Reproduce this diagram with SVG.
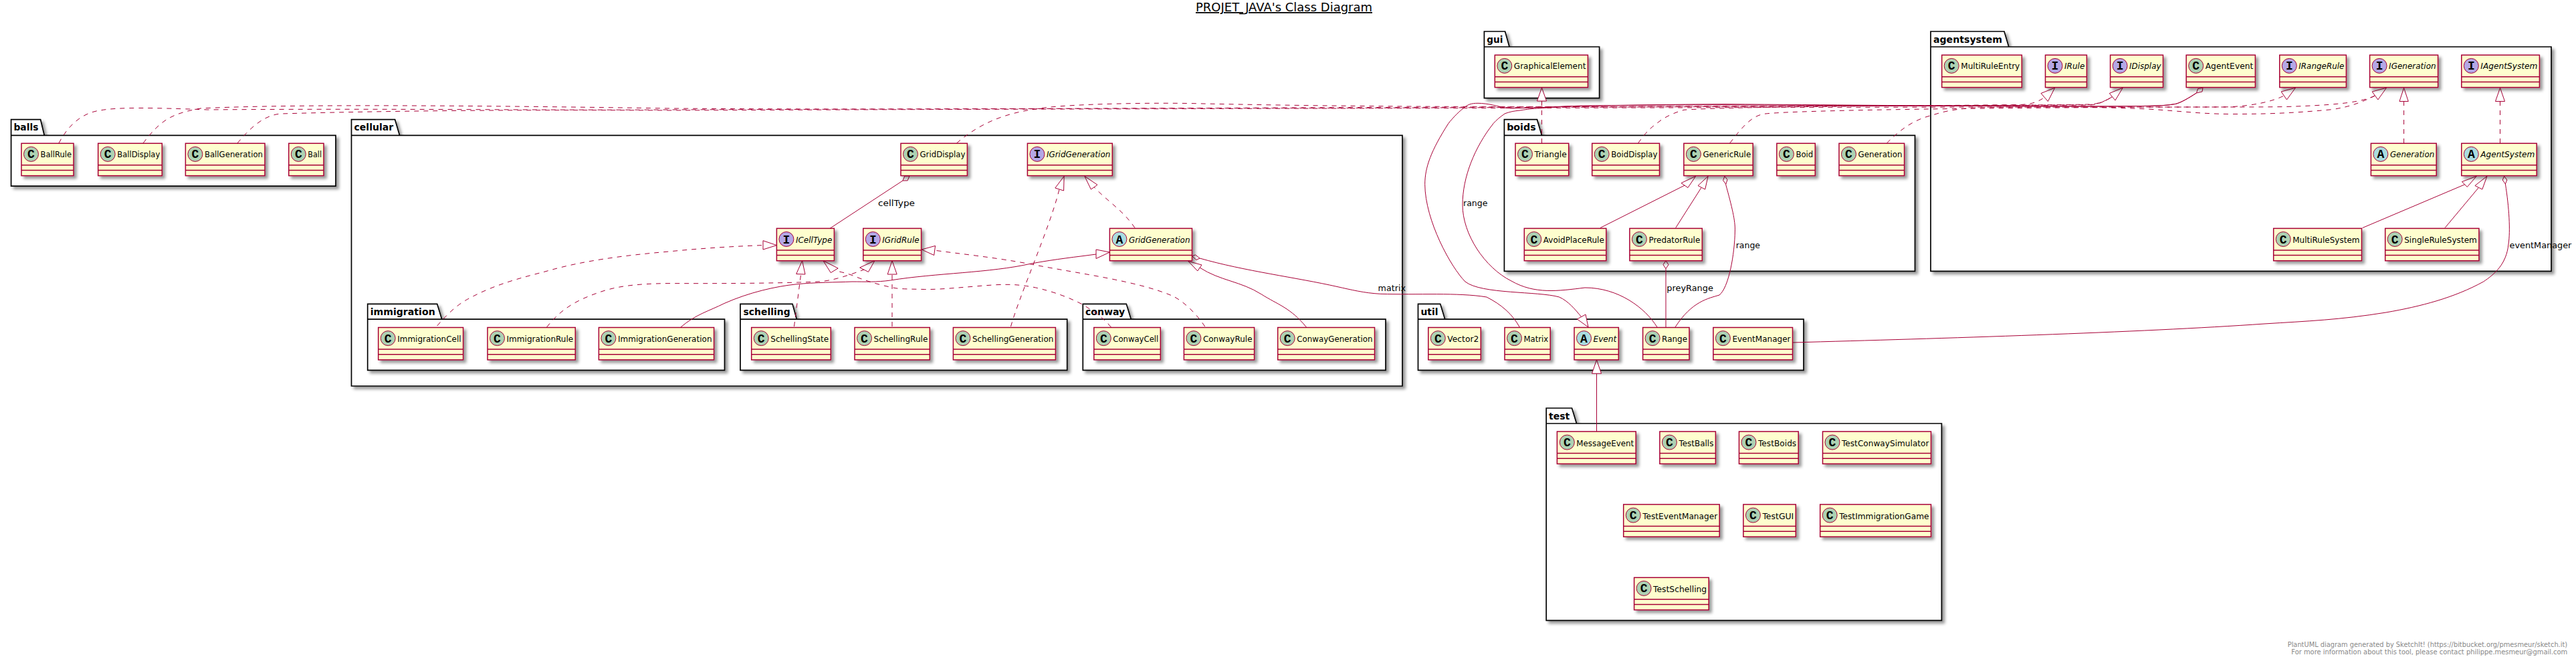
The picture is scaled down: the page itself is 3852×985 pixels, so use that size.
<svg xmlns="http://www.w3.org/2000/svg" width="3852" height="985" viewBox="0 0 3852 985">
<style>
text{font-family:"DejaVu Sans","Liberation Sans",sans-serif;font-size:13px;fill:#000}
.pk path{fill:#fff;stroke:#000;stroke-width:1.7;filter:url(#sh)}
.pk text{font-weight:bold;font-size:14px}
.n rect{fill:#FEFECE;stroke:#A80036;stroke-width:1.5;filter:url(#sh)}
.n line{stroke:#A80036;stroke-width:1.5}
.n ellipse{stroke:#A80036;stroke-width:1}
.n .g{font-family:"Liberation Mono",monospace;font-weight:bold;font-size:18px;text-anchor:middle}
.n .i{font-style:italic}
.c{fill:#ADD1B2}.a{fill:#A9DCDF}.f{fill:#B4A7E5}
#conn path{fill:none;stroke:#A80036;stroke-width:1}
#conn .d{stroke-dasharray:7,7}
#conn polygon{fill:#fff;stroke:#A80036;stroke-width:1}
.ft{font-size:10px;fill:#888}
</style>
<defs><filter id="sh" x="-20%" y="-20%" width="140%" height="140%"><feGaussianBlur in="SourceAlpha" stdDeviation="2" result="b"/><feColorMatrix in="b" type="matrix" values="0 0 0 0 0 0 0 0 0 0 0 0 0 0 0 0 0 0 .4 0" result="c"/><feOffset in="c" dx="4" dy="4" result="o"/><feBlend in="SourceGraphic" in2="o" mode="normal"/></filter></defs>
<text x="1788" y="17" font-size="18" style="font-size:18px;text-decoration:underline" textLength="264" lengthAdjust="spacingAndGlyphs">PROJET_JAVA's Class Diagram</text>
<g id="packages">
<g id="pkg-balls" class="pk"><path d="M16.6,202.4V178.7H60.6L66.3,202.4H502V278.2H16.6ZM16.6,202.4H66.3"/><text x="20.4" y="195.2" textLength="37" lengthAdjust="spacingAndGlyphs">balls</text></g>
<g id="pkg-cellular" class="pk"><path d="M525.5,202.4V178.7H590.6L597.6,202.4H2097V577H525.5ZM525.5,202.4H597.6"/><text x="529.5" y="195.2" textLength="58.7" lengthAdjust="spacingAndGlyphs">cellular</text></g>
<g id="pkg-immigration" class="pk"><path d="M549.7,477.2V454.3H653.7L660.7,477.2H1083.5V553.4H549.7ZM549.7,477.2H660.7"/><text x="553.7" y="470.8" textLength="97" lengthAdjust="spacingAndGlyphs">immigration</text></g>
<g id="pkg-schelling" class="pk"><path d="M1107,477.2V454.3H1185L1191.3,477.2H1595.7V553.4H1107ZM1107,477.2H1191.3"/><text x="1111.6" y="470.8" textLength="70" lengthAdjust="spacingAndGlyphs">schelling</text></g>
<g id="pkg-conway" class="pk"><path d="M1619.3,477.2V454.3H1684.3L1691.3,477.2H2072V553.4H1619.3ZM1619.3,477.2H1691.3"/><text x="1623" y="470.8" textLength="59.3" lengthAdjust="spacingAndGlyphs">conway</text></g>
<g id="pkg-gui" class="pk"><path d="M2219.4,70V47H2250.6L2257,70H2391.6V146.6H2219.4ZM2219.4,70H2257"/><text x="2223.2" y="63.5" textLength="24.2" lengthAdjust="spacingAndGlyphs">gui</text></g>
<g id="pkg-agentsystem" class="pk"><path d="M2887,70V47H2997L3003.8,70H3815V405.3H2887ZM2887,70H3003.8"/><text x="2891" y="63.5" textLength="103" lengthAdjust="spacingAndGlyphs">agentsystem</text></g>
<g id="pkg-boids" class="pk"><path d="M2249.4,202.4V178.7H2298.5L2305.5,202.4H2863.5V405.3H2249.4ZM2249.4,202.4H2305.5"/><text x="2253.2" y="195.2" textLength="43.4" lengthAdjust="spacingAndGlyphs">boids</text></g>
<g id="pkg-util" class="pk"><path d="M2120.5,477.2V454.3H2153.7L2160.7,477.2H2697V553.4H2120.5ZM2120.5,477.2H2160.7"/><text x="2124.4" y="470.8" textLength="26" lengthAdjust="spacingAndGlyphs">util</text></g>
<g id="pkg-test" class="pk"><path d="M2312.2,633V610H2350.5L2357.5,633H2903.4V927.3H2312.2ZM2312.2,633H2357.5"/><text x="2316" y="626.5" textLength="31.3" lengthAdjust="spacingAndGlyphs">test</text></g>
</g>
<g id="conn">
<path class="d" d="M88,214C103,185 125,168 150,165C175,160 230,161 310,164C600,162 800,165 1000,164C1400,163 1550,162 2000,161.5C2500,160 2900,158 3020,156.5C3035,156 3045,154 3057.2,145.5"/><polygon points="3072.7,131.2 3052,139.5 3062.4,151.5"/>
<path class="d" d="M214,214C240,180 255,170 300,162C400,157 600,156 1000,162C1300,164 1500,163 2000,160.7C2500,159 3000,158 3125,156.5C3135,156 3145,153 3158.6,144.7"/>
<path class="d" d="M355,214C375,190 395,172 420,170C600,165 800,164 1000,165C1500,163 2000,162 2500,161C2800,160 3150,160 3300,160C3350,160 3390,160 3418.8,159.5C3505,156.7 3532,152 3551.5,143"/>
<path class="d" d="M1430.5,214C1470,180 1510,168 1555,162C1600,155 1730,153 1800,155C1950,158 2100,160 2400,159.5C2700,158.5 3000,158 3125,157C3135,156.5 3145,153 3158.6,144.7"/>
<path class="d" d="M2449.6,214C2462,196 2470,190 2478,184C2490,174 2505,168 2518,164.3C2600,158 3000,158 3125,156C3135,155.5 3145,153 3158.6,144.7"/>
<polygon points="3174.3,131.2 3154.3,139.5 3163,150"/>
<path class="d" d="M2586.7,214C2605,190 2620,172 2640,170C2700,164 3000,161 3264,160C3290,160 3310,160 3332.7,159.8C3367,158.4 3398,152 3415.3,143"/><polygon points="3432.6,131.2 3411.2,137 3419.5,149"/>
<path class="d" d="M2821.4,214C2845,190 2865,178 2890,172C2910,165 2930,163 2950,161C3050,159 3150,160 3212,163C3264,166.4 3290,170 3332.7,170.5C3380,170.5 3420,170 3487.7,163.6C3510,160 3525,156 3551.5,143"/><polygon points="3568.6,131.2 3547.2,137 3555.9,149"/>
<path class="d" d="M2305.5,214V151"/><polygon points="2305.5,131 2298.5,151 2312.5,151"/>
<path d="M3284.5,139C3272,147 3262,153 3253.5,155.3C3240,158 3225,158 3212,158.4C3100,160 2900,158 2580,156.7C2500,156.7 2420,157.5 2363,158.3C2330,159 2320,161 2303,161.7C2290,162.5 2285,163 2273,165C2262,166 2255,168 2250,170C2243,175 2238,179 2233.3,184.3C2205,220 2187,265 2187,306C2187,350 2220,400 2260,420C2295,440 2330,435 2370,430C2420,430 2460,460 2478,489"/>
<path d="M3284.5,139C3272,147 3262,153 3253.5,155.3C3240,158 3225,158 3212,158.4C3100,160 2900,158 2580,155.7C2500,156 2420,157.5 2363,158.3C2330,159 2320,160 2303,160.7C2280,161.5 2265,162 2253.3,161.7C2240,159 2225,154.3 2210,154.3C2200,154.3 2195,156 2188.3,161.7C2178,170 2172,177 2166,184.3C2140,225 2130.7,250 2130.7,275.5C2131,330 2170,400 2191,421C2215,440 2300,435 2331.6,444C2345,450 2355,462 2364.8,473.8"/>
<polygon points="3294,131.2 3293,137 3284.5,139 3286.6,132.6"/>
<polygon points="2375,489 2358.4,477 2371,470"/>
<path d="M1350,270L1241,341.4"/><polygon points="1360,263 1357.1,269.9 1350,270 1352.9,263.1"/>
<path class="d" d="M1511.5,488C1525,440 1570,340 1584,283"/><polygon points="1591.2,263.3 1577.8,281 1590.6,285"/>
<path class="d" d="M1697,340.6C1680,315 1655,300 1636,279.6"/><polygon points="1621.8,263.3 1631.4,283 1641,276.3"/>
<path class="d" d="M653.7,487C675,462 690,452 701.5,446C740,425 780,415 816,405.7C870,390 930,382 1000,376C1050,371 1100,368 1141,366.6"/><polygon points="1161.4,366.6 1141,359.7 1141,373"/>
<path class="d" d="M817.6,489C840,460 865,448 893,438C920,428 950,424 1000,423.6C1100,424 1180,423 1223,421C1245,420 1270,411 1292,403"/><polygon points="1308,389.6 1285.7,400 1298.5,406.4"/>
<path class="d" d="M1187.5,488L1197.7,409.5"/><polygon points="1199.6,389.6 1190.7,409.5 1204,410"/>
<path class="d" d="M1334,488V410"/><polygon points="1334,389.6 1327.2,410 1341.2,410"/>
<path class="d" d="M1661.4,489C1650,475 1635,465 1618.6,455C1590,440 1560,432 1542,428.6C1520,425 1510,425 1491,425.6C1450,428 1410,433 1382.7,432.5C1360,432 1345,432 1338,430.5C1310,425 1290,418 1274,411.4C1265,408 1255,406 1248.7,404.5"/><polygon points="1230.9,389.6 1242.3,407.6 1253.2,401"/>
<path class="d" d="M1801.7,488C1790,470 1770,450 1752.6,442C1700,420 1620,410 1542,395C1490,385 1440,380 1398.6,374.3"/><polygon points="1378.2,373 1398.6,367.4 1396.7,381.5"/>
<path d="M1018,489C1040,470 1060,465 1083,453.5C1120,437 1160,428 1191,424.8C1220,422 1250,422 1274,421C1295,421 1310,422 1331.6,419C1400,408 1480,408 1542,394C1580,387 1610,384 1639,380"/><polygon points="1659.4,377 1639,373 1639,386.5"/>
<path d="M1953.4,489C1930,460 1910,455 1886.5,440C1855,420 1825,420 1794,400"/><polygon points="1776.8,390.4 1797,396 1790.8,405"/>
<path d="M1794,386C1860,405 1940,415 2000,428.6C2020,433 2040,438 2063.8,439.3C2120,441 2180,437 2223,444C2245,455 2262,470 2272.3,489"/><polygon points="1782.5,382.7 1787.6,381 1794,386 1789,388.5"/>
<path d="M2392.9,340.6L2519.8,276.7"/><polygon points="2535.7,263.3 2514,273.6 2524,280.5"/>
<path d="M2505.7,340.6L2544,280.5"/><polygon points="2554.2,263.3 2539,277.5 2549.7,283"/>
<path d="M2580.5,275.3C2590,310 2595,330 2594.4,345C2594,380 2585,430 2571,441C2555,446 2530,450 2505,489"/><polygon points="2579,263.3 2583,268.6 2580.8,275.3 2576.6,269.6"/>
<path d="M2491,401.6V489"/><polygon points="2491,389.6 2495,395.6 2491,401.6 2487,395.6"/>
<path d="M2387.5,558.3V645"/><polygon points="2387.5,537.7 2380.5,558.3 2394.5,558.3"/>
<path class="d" d="M3594.6,214V151.5"/><polygon points="3594.6,131.3 3588,151.5 3601.3,151.5"/>
<path class="d" d="M3738.5,214V151.5"/><polygon points="3738.5,131.3 3731.5,151.5 3745.5,151.5"/>
<path d="M3532.7,340.6L3686.3,275.5"/><polygon points="3703.3,263.3 3681.4,271.7 3689.3,279.4"/>
<path d="M3656,340.6L3706.3,280.5"/><polygon points="3719,263.3 3700.9,277.5 3711.8,283"/>
<path d="M3746.4,275C3752,310 3754,345 3751,365C3748,395 3730,410 3713.6,421C3670,445 3620,458 3568,467C3500,478 3450,480 3386,484C3200,497 2900,506 2680.5,512"/><polygon points="3744.6,263.3 3748.8,269 3746.4,275 3742.2,269"/>
<text x="1313" y="308" textLength="55" lengthAdjust="spacingAndGlyphs">cellType</text>
<text x="2060.6" y="435" textLength="41.4" lengthAdjust="spacingAndGlyphs">matrix</text>
<text x="2188" y="308" textLength="36.5" lengthAdjust="spacingAndGlyphs">range</text>
<text x="2595.7" y="371" textLength="36.3" lengthAdjust="spacingAndGlyphs">range</text>
<text x="2492.3" y="435" textLength="69.6" lengthAdjust="spacingAndGlyphs">preyRange</text>
<text x="3752.5" y="371" textLength="92.9" lengthAdjust="spacingAndGlyphs">eventManager</text>
</g>
<g id="BallRule" class="n"><rect x="32" y="214.3" width="78" height="48.3"/><line x1="32" y1="246.8" x2="110" y2="246.8"/><line x1="32" y1="254.5" x2="110" y2="254.5"/><ellipse class="c" cx="46.5" cy="230.4" rx="11" ry="11"/><text class="g" x="46.5" y="236.4">C</text><text x="60.5" y="235.4" textLength="46.5" lengthAdjust="spacingAndGlyphs">BallRule</text></g>
<g id="BallDisplay" class="n"><rect x="146.7" y="214.3" width="95.6" height="48.3"/><line x1="146.7" y1="246.8" x2="242.3" y2="246.8"/><line x1="146.7" y1="254.5" x2="242.3" y2="254.5"/><ellipse class="c" cx="161.2" cy="230.4" rx="11" ry="11"/><text class="g" x="161.2" y="236.4">C</text><text x="175.2" y="235.4" textLength="64.1" lengthAdjust="spacingAndGlyphs">BallDisplay</text></g>
<g id="BallGeneration" class="n"><rect x="277.4" y="214.3" width="118.6" height="48.3"/><line x1="277.4" y1="246.8" x2="396" y2="246.8"/><line x1="277.4" y1="254.5" x2="396" y2="254.5"/><ellipse class="c" cx="291.9" cy="230.4" rx="11" ry="11"/><text class="g" x="291.9" y="236.4">C</text><text x="305.9" y="235.4" textLength="87.1" lengthAdjust="spacingAndGlyphs">BallGeneration</text></g>
<g id="Ball" class="n"><rect x="431.8" y="214.3" width="52.2" height="48.3"/><line x1="431.8" y1="246.8" x2="484" y2="246.8"/><line x1="431.8" y1="254.5" x2="484" y2="254.5"/><ellipse class="c" cx="446.3" cy="230.4" rx="11" ry="11"/><text class="g" x="446.3" y="236.4">C</text><text x="460.3" y="235.4" textLength="20.7" lengthAdjust="spacingAndGlyphs">Ball</text></g>
<g id="GridDisplay" class="n"><rect x="1347" y="214.3" width="99.4" height="48.3"/><line x1="1347" y1="246.8" x2="1446.4" y2="246.8"/><line x1="1347" y1="254.5" x2="1446.4" y2="254.5"/><ellipse class="c" cx="1361.5" cy="230.4" rx="11" ry="11"/><text class="g" x="1361.5" y="236.4">C</text><text x="1375.5" y="235.4" textLength="67.9" lengthAdjust="spacingAndGlyphs">GridDisplay</text></g>
<g id="IGridGeneration" class="n"><rect x="1536.4" y="214.3" width="126.9" height="48.3"/><line x1="1536.4" y1="246.8" x2="1663.3" y2="246.8"/><line x1="1536.4" y1="254.5" x2="1663.3" y2="254.5"/><ellipse class="f" cx="1550.9" cy="230.4" rx="11" ry="11"/><text class="g" x="1550.9" y="236.4">I</text><text class="i" x="1564.9" y="235.4" textLength="95.4" lengthAdjust="spacingAndGlyphs">IGridGeneration</text></g>
<g id="ICellType" class="n"><rect x="1161.4" y="341.4" width="86" height="48.3"/><line x1="1161.4" y1="373.9" x2="1247.4" y2="373.9"/><line x1="1161.4" y1="381.6" x2="1247.4" y2="381.6"/><ellipse class="f" cx="1175.9" cy="357.5" rx="11" ry="11"/><text class="g" x="1175.9" y="363.5">I</text><text class="i" x="1189.9" y="362.5" textLength="54.5" lengthAdjust="spacingAndGlyphs">ICellType</text></g>
<g id="IGridRule" class="n"><rect x="1290.8" y="341.4" width="86.8" height="48.3"/><line x1="1290.8" y1="373.9" x2="1377.6" y2="373.9"/><line x1="1290.8" y1="381.6" x2="1377.6" y2="381.6"/><ellipse class="f" cx="1305.3" cy="357.5" rx="11" ry="11"/><text class="g" x="1305.3" y="363.5">I</text><text class="i" x="1319.3" y="362.5" textLength="55.3" lengthAdjust="spacingAndGlyphs">IGridRule</text></g>
<g id="GridGeneration" class="n"><rect x="1659.4" y="341.4" width="123.1" height="48.3"/><line x1="1659.4" y1="373.9" x2="1782.5" y2="373.9"/><line x1="1659.4" y1="381.6" x2="1782.5" y2="381.6"/><ellipse class="a" cx="1673.9" cy="357.5" rx="11" ry="11"/><text class="g" x="1673.9" y="363.5">A</text><text class="i" x="1687.9" y="362.5" textLength="91.6" lengthAdjust="spacingAndGlyphs">GridGeneration</text></g>
<g id="ImmigrationCell" class="n"><rect x="565.7" y="489.5" width="126.9" height="48.3"/><line x1="565.7" y1="522" x2="692.6" y2="522"/><line x1="565.7" y1="529.7" x2="692.6" y2="529.7"/><ellipse class="c" cx="580.2" cy="505.6" rx="11" ry="11"/><text class="g" x="580.2" y="511.6">C</text><text x="594.2" y="510.6" textLength="95.4" lengthAdjust="spacingAndGlyphs">ImmigrationCell</text></g>
<g id="ImmigrationRule" class="n"><rect x="729" y="489.5" width="131.3" height="48.3"/><line x1="729" y1="522" x2="860.3" y2="522"/><line x1="729" y1="529.7" x2="860.3" y2="529.7"/><ellipse class="c" cx="743.5" cy="505.6" rx="11" ry="11"/><text class="g" x="743.5" y="511.6">C</text><text x="757.5" y="510.6" textLength="99.8" lengthAdjust="spacingAndGlyphs">ImmigrationRule</text></g>
<g id="ImmigrationGeneration" class="n"><rect x="895.4" y="489.5" width="172.2" height="48.3"/><line x1="895.4" y1="522" x2="1067.6" y2="522"/><line x1="895.4" y1="529.7" x2="1067.6" y2="529.7"/><ellipse class="c" cx="909.9" cy="505.6" rx="11" ry="11"/><text class="g" x="909.9" y="511.6">C</text><text x="923.9" y="510.6" textLength="140.7" lengthAdjust="spacingAndGlyphs">ImmigrationGeneration</text></g>
<g id="SchellingState" class="n"><rect x="1123.7" y="489.5" width="118.6" height="48.3"/><line x1="1123.7" y1="522" x2="1242.3" y2="522"/><line x1="1123.7" y1="529.7" x2="1242.3" y2="529.7"/><ellipse class="c" cx="1138.2" cy="505.6" rx="11" ry="11"/><text class="g" x="1138.2" y="511.6">C</text><text x="1152.2" y="510.6" textLength="87.1" lengthAdjust="spacingAndGlyphs">SchellingState</text></g>
<g id="SchellingRule" class="n"><rect x="1278" y="489.5" width="112.3" height="48.3"/><line x1="1278" y1="522" x2="1390.3" y2="522"/><line x1="1278" y1="529.7" x2="1390.3" y2="529.7"/><ellipse class="c" cx="1292.5" cy="505.6" rx="11" ry="11"/><text class="g" x="1292.5" y="511.6">C</text><text x="1306.5" y="510.6" textLength="80.8" lengthAdjust="spacingAndGlyphs">SchellingRule</text></g>
<g id="SchellingGeneration" class="n"><rect x="1425.4" y="489.5" width="153" height="48.3"/><line x1="1425.4" y1="522" x2="1578.4" y2="522"/><line x1="1425.4" y1="529.7" x2="1578.4" y2="529.7"/><ellipse class="c" cx="1439.9" cy="505.6" rx="11" ry="11"/><text class="g" x="1439.9" y="511.6">C</text><text x="1453.9" y="510.6" textLength="121.5" lengthAdjust="spacingAndGlyphs">SchellingGeneration</text></g>
<g id="ConwayCell" class="n"><rect x="1635.8" y="489.5" width="99.5" height="48.3"/><line x1="1635.8" y1="522" x2="1735.3" y2="522"/><line x1="1635.8" y1="529.7" x2="1735.3" y2="529.7"/><ellipse class="c" cx="1650.3" cy="505.6" rx="11" ry="11"/><text class="g" x="1650.3" y="511.6">C</text><text x="1664.3" y="510.6" textLength="68" lengthAdjust="spacingAndGlyphs">ConwayCell</text></g>
<g id="ConwayRule" class="n"><rect x="1770.4" y="489.5" width="105.2" height="48.3"/><line x1="1770.4" y1="522" x2="1875.6" y2="522"/><line x1="1770.4" y1="529.7" x2="1875.6" y2="529.7"/><ellipse class="c" cx="1784.9" cy="505.6" rx="11" ry="11"/><text class="g" x="1784.9" y="511.6">C</text><text x="1798.9" y="510.6" textLength="73.7" lengthAdjust="spacingAndGlyphs">ConwayRule</text></g>
<g id="ConwayGeneration" class="n"><rect x="1910.7" y="489.5" width="144.8" height="48.3"/><line x1="1910.7" y1="522" x2="2055.5" y2="522"/><line x1="1910.7" y1="529.7" x2="2055.5" y2="529.7"/><ellipse class="c" cx="1925.2" cy="505.6" rx="11" ry="11"/><text class="g" x="1925.2" y="511.6">C</text><text x="1939.2" y="510.6" textLength="113.3" lengthAdjust="spacingAndGlyphs">ConwayGeneration</text></g>
<g id="GraphicalElement" class="n"><rect x="2235.3" y="82.3" width="139.1" height="48.3"/><line x1="2235.3" y1="114.8" x2="2374.4" y2="114.8"/><line x1="2235.3" y1="122.5" x2="2374.4" y2="122.5"/><ellipse class="c" cx="2249.8" cy="98.4" rx="11" ry="11"/><text class="g" x="2249.8" y="104.4">C</text><text x="2263.8" y="103.4" textLength="107.6" lengthAdjust="spacingAndGlyphs">GraphicalElement</text></g>
<g id="Triangle" class="n"><rect x="2266" y="214.3" width="79.7" height="48.3"/><line x1="2266" y1="246.8" x2="2345.7" y2="246.8"/><line x1="2266" y1="254.5" x2="2345.7" y2="254.5"/><ellipse class="c" cx="2280.5" cy="230.4" rx="11" ry="11"/><text class="g" x="2280.5" y="236.4">C</text><text x="2294.5" y="235.4" textLength="48.2" lengthAdjust="spacingAndGlyphs">Triangle</text></g>
<g id="BoidDisplay" class="n"><rect x="2380.7" y="214.3" width="100.8" height="48.3"/><line x1="2380.7" y1="246.8" x2="2481.5" y2="246.8"/><line x1="2380.7" y1="254.5" x2="2481.5" y2="254.5"/><ellipse class="c" cx="2395.2" cy="230.4" rx="11" ry="11"/><text class="g" x="2395.2" y="236.4">C</text><text x="2409.2" y="235.4" textLength="69.3" lengthAdjust="spacingAndGlyphs">BoidDisplay</text></g>
<g id="GenericRule" class="n"><rect x="2517.9" y="214.3" width="103.3" height="48.3"/><line x1="2517.9" y1="246.8" x2="2621.2" y2="246.8"/><line x1="2517.9" y1="254.5" x2="2621.2" y2="254.5"/><ellipse class="c" cx="2532.4" cy="230.4" rx="11" ry="11"/><text class="g" x="2532.4" y="236.4">C</text><text x="2546.4" y="235.4" textLength="71.8" lengthAdjust="spacingAndGlyphs">GenericRule</text></g>
<g id="Boid" class="n"><rect x="2656.9" y="214.3" width="57.4" height="48.3"/><line x1="2656.9" y1="246.8" x2="2714.3" y2="246.8"/><line x1="2656.9" y1="254.5" x2="2714.3" y2="254.5"/><ellipse class="c" cx="2671.4" cy="230.4" rx="11" ry="11"/><text class="g" x="2671.4" y="236.4">C</text><text x="2685.4" y="235.4" textLength="25.9" lengthAdjust="spacingAndGlyphs">Boid</text></g>
<g id="Generation" class="n"><rect x="2750" y="214.3" width="97.6" height="48.3"/><line x1="2750" y1="246.8" x2="2847.6" y2="246.8"/><line x1="2750" y1="254.5" x2="2847.6" y2="254.5"/><ellipse class="c" cx="2764.5" cy="230.4" rx="11" ry="11"/><text class="g" x="2764.5" y="236.4">C</text><text x="2778.5" y="235.4" textLength="66.1" lengthAdjust="spacingAndGlyphs">Generation</text></g>
<g id="AvoidPlaceRule" class="n"><rect x="2279.3" y="341.4" width="122.5" height="48.3"/><line x1="2279.3" y1="373.9" x2="2401.8" y2="373.9"/><line x1="2279.3" y1="381.6" x2="2401.8" y2="381.6"/><ellipse class="c" cx="2293.8" cy="357.5" rx="11" ry="11"/><text class="g" x="2293.8" y="363.5">C</text><text x="2307.8" y="362.5" textLength="91" lengthAdjust="spacingAndGlyphs">AvoidPlaceRule</text></g>
<g id="PredatorRule" class="n"><rect x="2436.9" y="341.4" width="108.4" height="48.3"/><line x1="2436.9" y1="373.9" x2="2545.3" y2="373.9"/><line x1="2436.9" y1="381.6" x2="2545.3" y2="381.6"/><ellipse class="c" cx="2451.4" cy="357.5" rx="11" ry="11"/><text class="g" x="2451.4" y="363.5">C</text><text x="2465.4" y="362.5" textLength="76.9" lengthAdjust="spacingAndGlyphs">PredatorRule</text></g>
<g id="Vector2" class="n"><rect x="2135.8" y="489.5" width="78.5" height="48.3"/><line x1="2135.8" y1="522" x2="2214.3" y2="522"/><line x1="2135.8" y1="529.7" x2="2214.3" y2="529.7"/><ellipse class="c" cx="2150.3" cy="505.6" rx="11" ry="11"/><text class="g" x="2150.3" y="511.6">C</text><text x="2164.3" y="510.6" textLength="47" lengthAdjust="spacingAndGlyphs">Vector2</text></g>
<g id="Matrix" class="n"><rect x="2250" y="489.5" width="68.2" height="48.3"/><line x1="2250" y1="522" x2="2318.2" y2="522"/><line x1="2250" y1="529.7" x2="2318.2" y2="529.7"/><ellipse class="c" cx="2264.5" cy="505.6" rx="11" ry="11"/><text class="g" x="2264.5" y="511.6">C</text><text x="2278.5" y="510.6" textLength="36.7" lengthAdjust="spacingAndGlyphs">Matrix</text></g>
<g id="Event" class="n"><rect x="2354" y="489.5" width="66.3" height="48.3"/><line x1="2354" y1="522" x2="2420.3" y2="522"/><line x1="2354" y1="529.7" x2="2420.3" y2="529.7"/><ellipse class="a" cx="2368.5" cy="505.6" rx="11" ry="11"/><text class="g" x="2368.5" y="511.6">A</text><text class="i" x="2382.5" y="510.6" textLength="34.8" lengthAdjust="spacingAndGlyphs">Event</text></g>
<g id="Range" class="n"><rect x="2456.6" y="489.5" width="69.4" height="48.3"/><line x1="2456.6" y1="522" x2="2526" y2="522"/><line x1="2456.6" y1="529.7" x2="2526" y2="529.7"/><ellipse class="c" cx="2471.1" cy="505.6" rx="11" ry="11"/><text class="g" x="2471.1" y="511.6">C</text><text x="2485.1" y="510.6" textLength="37.9" lengthAdjust="spacingAndGlyphs">Range</text></g>
<g id="EventManager" class="n"><rect x="2561.9" y="489.5" width="118.6" height="48.3"/><line x1="2561.9" y1="522" x2="2680.5" y2="522"/><line x1="2561.9" y1="529.7" x2="2680.5" y2="529.7"/><ellipse class="c" cx="2576.4" cy="505.6" rx="11" ry="11"/><text class="g" x="2576.4" y="511.6">C</text><text x="2590.4" y="510.6" textLength="87.1" lengthAdjust="spacingAndGlyphs">EventManager</text></g>
<g id="MultiRuleEntry" class="n"><rect x="2903.7" y="82.3" width="119.6" height="48.3"/><line x1="2903.7" y1="114.8" x2="3023.3" y2="114.8"/><line x1="2903.7" y1="122.5" x2="3023.3" y2="122.5"/><ellipse class="c" cx="2918.2" cy="98.4" rx="11" ry="11"/><text class="g" x="2918.2" y="104.4">C</text><text x="2932.2" y="103.4" textLength="88.1" lengthAdjust="spacingAndGlyphs">MultiRuleEntry</text></g>
<g id="IRule" class="n"><rect x="3058.5" y="82.3" width="61.9" height="48.3"/><line x1="3058.5" y1="114.8" x2="3120.4" y2="114.8"/><line x1="3058.5" y1="122.5" x2="3120.4" y2="122.5"/><ellipse class="f" cx="3073" cy="98.4" rx="11" ry="11"/><text class="g" x="3073" y="104.4">I</text><text class="i" x="3087" y="103.4" textLength="30.4" lengthAdjust="spacingAndGlyphs">IRule</text></g>
<g id="IDisplay" class="n"><rect x="3155.6" y="82.3" width="78.9" height="48.3"/><line x1="3155.6" y1="114.8" x2="3234.5" y2="114.8"/><line x1="3155.6" y1="122.5" x2="3234.5" y2="122.5"/><ellipse class="f" cx="3170.1" cy="98.4" rx="11" ry="11"/><text class="g" x="3170.1" y="104.4">I</text><text class="i" x="3184.1" y="103.4" textLength="47.4" lengthAdjust="spacingAndGlyphs">IDisplay</text></g>
<g id="AgentEvent" class="n"><rect x="3269.2" y="82.3" width="103.2" height="48.3"/><line x1="3269.2" y1="114.8" x2="3372.4" y2="114.8"/><line x1="3269.2" y1="122.5" x2="3372.4" y2="122.5"/><ellipse class="c" cx="3283.7" cy="98.4" rx="11" ry="11"/><text class="g" x="3283.7" y="104.4">C</text><text x="3297.7" y="103.4" textLength="71.7" lengthAdjust="spacingAndGlyphs">AgentEvent</text></g>
<g id="IRangeRule" class="n"><rect x="3408.8" y="82.3" width="99.6" height="48.3"/><line x1="3408.8" y1="114.8" x2="3508.4" y2="114.8"/><line x1="3408.8" y1="122.5" x2="3508.4" y2="122.5"/><ellipse class="f" cx="3423.3" cy="98.4" rx="11" ry="11"/><text class="g" x="3423.3" y="104.4">I</text><text class="i" x="3437.3" y="103.4" textLength="68.1" lengthAdjust="spacingAndGlyphs">IRangeRule</text></g>
<g id="IGeneration" class="n"><rect x="3543.6" y="82.3" width="102" height="48.3"/><line x1="3543.6" y1="114.8" x2="3645.6" y2="114.8"/><line x1="3543.6" y1="122.5" x2="3645.6" y2="122.5"/><ellipse class="f" cx="3558.1" cy="98.4" rx="11" ry="11"/><text class="g" x="3558.1" y="104.4">I</text><text class="i" x="3572.1" y="103.4" textLength="70.5" lengthAdjust="spacingAndGlyphs">IGeneration</text></g>
<g id="IAgentSystem" class="n"><rect x="3680.8" y="82.3" width="116.6" height="48.3"/><line x1="3680.8" y1="114.8" x2="3797.4" y2="114.8"/><line x1="3680.8" y1="122.5" x2="3797.4" y2="122.5"/><ellipse class="f" cx="3695.3" cy="98.4" rx="11" ry="11"/><text class="g" x="3695.3" y="104.4">I</text><text class="i" x="3709.3" y="103.4" textLength="85.1" lengthAdjust="spacingAndGlyphs">IAgentSystem</text></g>
<g id="asGeneration" class="n"><rect x="3545.4" y="214.3" width="97.8" height="48.3"/><line x1="3545.4" y1="246.8" x2="3643.2" y2="246.8"/><line x1="3545.4" y1="254.5" x2="3643.2" y2="254.5"/><ellipse class="a" cx="3559.9" cy="230.4" rx="11" ry="11"/><text class="g" x="3559.9" y="236.4">A</text><text class="i" x="3573.9" y="235.4" textLength="66.3" lengthAdjust="spacingAndGlyphs">Generation</text></g>
<g id="AgentSystem" class="n"><rect x="3680.8" y="214.3" width="112.4" height="48.3"/><line x1="3680.8" y1="246.8" x2="3793.2" y2="246.8"/><line x1="3680.8" y1="254.5" x2="3793.2" y2="254.5"/><ellipse class="a" cx="3695.3" cy="230.4" rx="11" ry="11"/><text class="g" x="3695.3" y="236.4">A</text><text class="i" x="3709.3" y="235.4" textLength="80.9" lengthAdjust="spacingAndGlyphs">AgentSystem</text></g>
<g id="MultiRuleSystem" class="n"><rect x="3399.7" y="341.4" width="131.8" height="48.3"/><line x1="3399.7" y1="373.9" x2="3531.5" y2="373.9"/><line x1="3399.7" y1="381.6" x2="3531.5" y2="381.6"/><ellipse class="c" cx="3414.2" cy="357.5" rx="11" ry="11"/><text class="g" x="3414.2" y="363.5">C</text><text x="3428.2" y="362.5" textLength="100.3" lengthAdjust="spacingAndGlyphs">MultiRuleSystem</text></g>
<g id="SingleRuleSystem" class="n"><rect x="3566.7" y="341.4" width="140.2" height="48.3"/><line x1="3566.7" y1="373.9" x2="3706.9" y2="373.9"/><line x1="3566.7" y1="381.6" x2="3706.9" y2="381.6"/><ellipse class="c" cx="3581.2" cy="357.5" rx="11" ry="11"/><text class="g" x="3581.2" y="363.5">C</text><text x="3595.2" y="362.5" textLength="108.7" lengthAdjust="spacingAndGlyphs">SingleRuleSystem</text></g>
<g id="MessageEvent" class="n"><rect x="2328.4" y="645" width="117.8" height="48.3"/><line x1="2328.4" y1="677.5" x2="2446.2" y2="677.5"/><line x1="2328.4" y1="685.2" x2="2446.2" y2="685.2"/><ellipse class="c" cx="2343.3" cy="661.1" rx="11" ry="11"/><text class="g" x="2343.3" y="667.1">C</text><text x="2357.3" y="666.6" textLength="85.9" lengthAdjust="spacingAndGlyphs">MessageEvent</text></g>
<g id="TestBalls" class="n"><rect x="2481.9" y="645" width="83.5" height="48.3"/><line x1="2481.9" y1="677.5" x2="2565.4" y2="677.5"/><line x1="2481.9" y1="685.2" x2="2565.4" y2="685.2"/><ellipse class="c" cx="2496.4" cy="661.1" rx="11" ry="11"/><text class="g" x="2496.4" y="667.1">C</text><text x="2510.4" y="666.6" textLength="52" lengthAdjust="spacingAndGlyphs">TestBalls</text></g>
<g id="TestBoids" class="n"><rect x="2600.5" y="645" width="88.7" height="48.3"/><line x1="2600.5" y1="677.5" x2="2689.2" y2="677.5"/><line x1="2600.5" y1="685.2" x2="2689.2" y2="685.2"/><ellipse class="c" cx="2615" cy="661.1" rx="11" ry="11"/><text class="g" x="2615" y="667.1">C</text><text x="2629" y="666.6" textLength="57.2" lengthAdjust="spacingAndGlyphs">TestBoids</text></g>
<g id="TestConwaySimulator" class="n"><rect x="2725.5" y="645" width="162" height="48.3"/><line x1="2725.5" y1="677.5" x2="2887.5" y2="677.5"/><line x1="2725.5" y1="685.2" x2="2887.5" y2="685.2"/><ellipse class="c" cx="2740" cy="661.1" rx="11" ry="11"/><text class="g" x="2740" y="667.1">C</text><text x="2754" y="666.6" textLength="130.5" lengthAdjust="spacingAndGlyphs">TestConwaySimulator</text></g>
<g id="TestEventManager" class="n"><rect x="2427.7" y="754" width="143.5" height="48.3"/><line x1="2427.7" y1="786.5" x2="2571.2" y2="786.5"/><line x1="2427.7" y1="794.2" x2="2571.2" y2="794.2"/><ellipse class="c" cx="2442.2" cy="770.1" rx="11" ry="11"/><text class="g" x="2442.2" y="776.1">C</text><text x="2456.2" y="775.6" textLength="112" lengthAdjust="spacingAndGlyphs">TestEventManager</text></g>
<g id="TestGUI" class="n"><rect x="2606.9" y="754" width="78.4" height="48.3"/><line x1="2606.9" y1="786.5" x2="2685.3" y2="786.5"/><line x1="2606.9" y1="794.2" x2="2685.3" y2="794.2"/><ellipse class="c" cx="2621.4" cy="770.1" rx="11" ry="11"/><text class="g" x="2621.4" y="776.1">C</text><text x="2635.4" y="775.6" textLength="46.9" lengthAdjust="spacingAndGlyphs">TestGUI</text></g>
<g id="TestImmigrationGame" class="n"><rect x="2721.7" y="754" width="165.8" height="48.3"/><line x1="2721.7" y1="786.5" x2="2887.5" y2="786.5"/><line x1="2721.7" y1="794.2" x2="2887.5" y2="794.2"/><ellipse class="c" cx="2736.2" cy="770.1" rx="11" ry="11"/><text class="g" x="2736.2" y="776.1">C</text><text x="2750.2" y="775.6" textLength="134.3" lengthAdjust="spacingAndGlyphs">TestImmigrationGame</text></g>
<g id="TestSchelling" class="n"><rect x="2443.6" y="863.3" width="111.6" height="48.3"/><line x1="2443.6" y1="895.8" x2="2555.2" y2="895.8"/><line x1="2443.6" y1="903.5" x2="2555.2" y2="903.5"/><ellipse class="c" cx="2458.1" cy="879.4" rx="11" ry="11"/><text class="g" x="2458.1" y="885.4">C</text><text x="2472.1" y="884.9" textLength="80.1" lengthAdjust="spacingAndGlyphs">TestSchelling</text></g>
<text class="ft" transform="translate(3420.7,966.7) scale(.87,1)" textLength="481" lengthAdjust="spacingAndGlyphs">PlantUML diagram generated by SketchIt! (https://bitbucket.org/pmesmeur/sketch.it)</text>
<text class="ft" transform="translate(3426.3,977.7) scale(.87,1)" textLength="474.7" lengthAdjust="spacingAndGlyphs">For more information about this tool, please contact philippe.mesmeur@gmail.com</text>
</svg>
